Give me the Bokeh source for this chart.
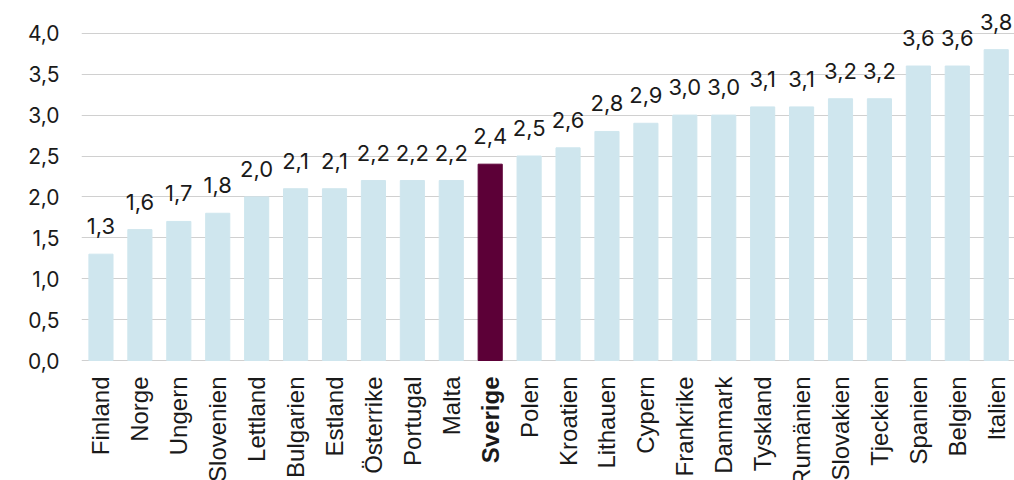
import math
from bokeh.plotting import figure
from bokeh.layouts import column
from bokeh.models import Range1d, FixedTicker, CustomJSTickFormatter, ColumnDataSource
from bokeh.embed import file_html
from bokeh.resources import INLINE
from bokeh.core.properties import value

countries = ["Finland", "Norge", "Ungern", "Slovenien", "Lettland", "Bulgarien", "Estland",
             "Österrike", "Portugal", "Malta", "Sverige", "Polen", "Kroatien", "Lithauen",
             "Cypern", "Frankrike", "Danmark", "Tyskland", "Rumänien", "Slovakien",
             "Tjeckien", "Spanien", "Belgien", "Italien"]
values = [1.3, 1.6, 1.7, 1.8, 2.0, 2.1, 2.1, 2.2, 2.2, 2.2, 2.4, 2.5, 2.6, 2.8,
          2.9, 3.0, 3.0, 3.1, 3.1, 3.2, 3.2, 3.6, 3.6, 3.8]
highlight = "Sverige"
y_ticks = [0, 0.5, 1.0, 1.5, 2.0, 2.5, 3.0, 3.5, 4.0]

BASE = "#cfe6ee"
HI = "#5c0037"
TXT = "#1a1a1a"

xs = list(range(len(countries)))
src = ColumnDataSource(dict(
    x=xs, top=values,
    color=[HI if c == highlight else BASE for c in countries],
    lab=[f"{v:.1f}".replace(".", ",") for v in values],
    name=countries,
    style=["bold" if c == highlight else "normal" for c in countries],
))

xr = Range1d(-0.5, 23.47)
FRAME_H = 361
BORDER_B = 12
TOP_H = FRAME_H + BORDER_B
PX_PER_UNIT = 81.8
y0 = -1.0 / PX_PER_UNIT

p = figure(width=1014, height=TOP_H, output_backend="svg", toolbar_location=None,
           x_range=xr, y_range=Range1d(y0, y0 + FRAME_H / PX_PER_UNIT),
           min_border_left=81, min_border_right=0, min_border_top=0, min_border_bottom=BORDER_B)
p.outline_line_color = None

p.vbar(x="x", top="top", bottom=0, width=0.62, color="color", source=src)
p.text(x="x", y="top", text="lab", source=src, text_align="center",
       text_baseline="alphabetic", y_offset=-28, text_font=value("Inter"),
       text_font_size="22px", text_color=TXT)

p.xaxis.visible = False
p.yaxis.ticker = FixedTicker(ticks=y_ticks)
p.yaxis.formatter = CustomJSTickFormatter(code="return tick.toFixed(1).replace('.', ',');")
p.yaxis.axis_line_color = None
p.yaxis.major_tick_line_color = None
p.yaxis.minor_tick_line_color = None
p.yaxis.major_label_standoff = 16
p.yaxis.major_label_text_font = "Inter"
p.yaxis.major_label_text_font_size = "21px"
p.yaxis.major_label_text_color = TXT

p.ygrid.ticker = FixedTicker(ticks=y_ticks)
p.ygrid.grid_line_color = "#d0d0d0"
p.ygrid.grid_line_width = 1
p.xgrid.grid_line_color = None

# bottom strip with category labels (clipped at the bottom like the reference)
BOT_H = 480 - TOP_H
q = figure(width=1014, height=BOT_H, output_backend="svg", toolbar_location=None,
           x_range=xr, y_range=Range1d(-BOT_H, 0),
           min_border_left=81, min_border_right=0, min_border_top=0, min_border_bottom=0)
q.outline_line_color = None
q.axis.visible = False
q.grid.grid_line_color = None
q.text(x="x", y=0, text="name", source=src, y_offset=3, angle=math.pi / 2,
       text_align="right", text_baseline="middle", text_font=value("Liberation Sans"),
       text_font_style="style", text_font_size="24px", text_color=TXT)

layout = column(p, q, spacing=0)
open("out.html", "w").write(file_html(layout, INLINE))
